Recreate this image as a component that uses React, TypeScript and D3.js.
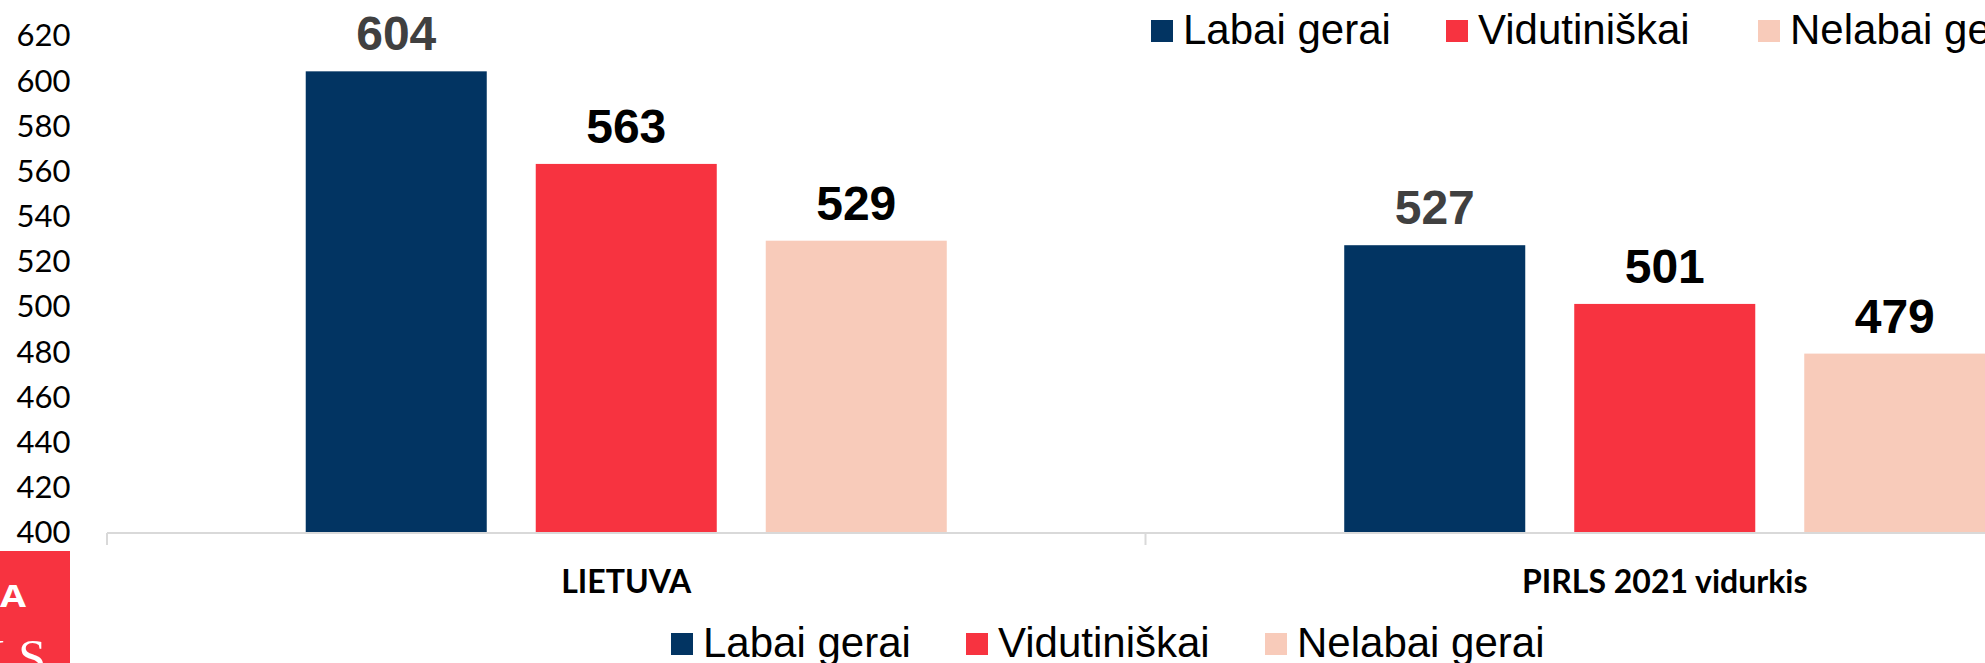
import React from "react";
import * as d3 from "d3";

const categories = ["LIETUVA", "PIRLS 2021 vidurkis"];
const seriesNames = ["Labai gerai", "Vidutiniškai", "Nelabai gerai"];
const lietuvaValues = [604, 563, 529];
const pirlsValues = [527, 501, 479];
const seriesColors = ["#023462", "#f73340", "#f8cbba"];
const labelColors = ["#404040", "#000000", "#000000"];
const yTicks = [400, 420, 440, 460, 480, 500, 520, 540, 560, 580, 600, 620];

const W = 1985;
const H = 663;

export default function App() {
  const valuesByCat = [lietuvaValues, pirlsValues];
  const y = d3.scaleLinear().domain([400, 620]).range([532, 35.2]);
  const x0 = d3.scaleBand<string>().domain(categories).range([107, 107 + 2 * 1038.5]).padding(0);
  const x1 = d3
    .scaleBand<string>()
    .domain(seriesNames)
    .range([0, x0.bandwidth()])
    .paddingInner(0.213)
    .paddingOuter(0.864);

  const topLegendX = [1151, 1446, 1758];
  const bottomLegendX = [671, 966, 1265];

  const legend = (xs: number[], sqY: number, baseY: number, key: string) =>
    seriesNames.map((s, i) => (
      <g key={key + i}>
        <rect x={xs[i]} y={sqY} width={22} height={22} fill={seriesColors[i]} />
        <text
          x={xs[i] + 32}
          y={baseY}
          fontFamily="'Liberation Sans', Arial, sans-serif"
          fontSize={42}
          fill="#000"
        >
          {s}
        </text>
      </g>
    ));

  return (
    <svg
      width={W}
      height={H}
      style={{ position: "absolute", left: 0, top: 0, background: "#fff" }}
    >
      <rect x={0} y={0} width={W} height={H} fill="#fff" />
      {/* y tick labels */}
      {yTicks.map((t) => (
        <text
          key={t}
          x={70.5}
          y={y(t)}
          dy="0.36em"
          textAnchor="end"
          fontFamily="Lato, 'Open Sans', sans-serif"
          fontSize={31}
          fill="#000"
        >
          {t}
        </text>
      ))}
      {/* bars */}
      {categories.map((c, ci) => (
        <g key={c} transform={`translate(${x0(c)},0)`}>
          {seriesNames.map((s, si) => {
            const v = valuesByCat[ci][si];
            return (
              <g key={s}>
                <rect
                  x={x1(s)}
                  y={y(v)}
                  width={x1.bandwidth()}
                  height={y(400) - y(v)}
                  fill={seriesColors[si]}
                />
                <text
                  x={(x1(s) as number) + x1.bandwidth() / 2}
                  y={y(v) - 21}
                  textAnchor="middle"
                  fontFamily="'Liberation Sans', Arial, sans-serif"
                  fontWeight="bold"
                  fontSize={48}
                  fill={labelColors[si]}
                >
                  {v}
                </text>
              </g>
            );
          })}
          <text
            x={x0.bandwidth() / 2}
            y={592.5}
            textAnchor="middle"
            fontFamily="Lato, 'Open Sans', sans-serif"
            fontWeight="bold"
            fontSize={32}
            fill="#000"
          >
            {c}
          </text>
        </g>
      ))}
      {/* x axis */}
      <line x1={x0.range()[0]} x2={x0.range()[1]} y1={533} y2={533} stroke="#d9d9d9" strokeWidth={2} />
      {[...categories.map((c) => x0(c) as number), x0.range()[1]].map((tx, i) => (
        <line key={i} x1={tx} x2={tx} y1={533} y2={545} stroke="#d9d9d9" strokeWidth={2} />
      ))}
      {/* legends */}
      {legend(topLegendX, 20, 43.5, "t")}
      {legend(bottomLegendX, 633, 657, "b")}
      {/* logo fragment */}
      <rect x={0} y={551} width={70} height={112} fill="#f73340" />
      <text
        x={0}
        y={607}
        fontFamily="'Open Sans', sans-serif"
        fontWeight="bold"
        fontSize={30}
        fill="#fff"
        textLength={26}
        lengthAdjust="spacingAndGlyphs"
      >
        A
      </text>
      <text
        x={46}
        y={674}
        textAnchor="end"
        fontFamily="'Liberation Serif', serif"
        fontSize={50}
        fill="#fff"
      >
        LS
      </text>
    </svg>
  );
}
